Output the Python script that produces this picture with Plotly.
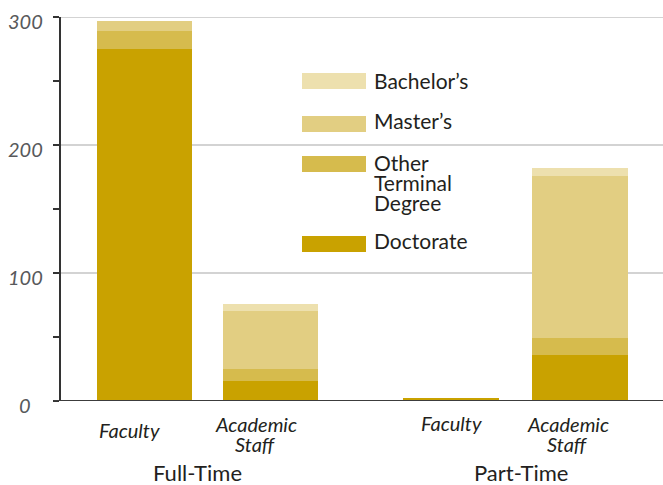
import plotly.graph_objects as go

# ---------------- data ----------------
groups = ["Full-Time", "Part-Time"]
categories = ["Faculty", "Academic Staff"]
series_names = ["Doctorate", "Other Terminal Degree", "Master\u2019s", "Bachelor\u2019s"]
series_colors = ["#c9a200", "#d6bb4d", "#e2ce82", "#ede0ae"]

doctorate_ft = [275, 16]
doctorate_pt = [2, 36]
other_ft = [14, 9]
other_pt = [0, 13]
masters_ft = [8, 45]
masters_pt = [0, 127]
bachelors_ft = [0, 6]
bachelors_pt = [0, 6]

y_tick_vals = [0, 100, 200, 300]
y_minor_vals = [50, 150, 250]
y_range = [0, 300]

ft_values = [doctorate_ft, other_ft, masters_ft, bachelors_ft]
pt_values = [doctorate_pt, other_pt, masters_pt, bachelors_pt]

# ---------------- geometry helpers ----------------
W, H = 663, 485
L, R, T, B = 60, 663, 17, 401


def px_x(px):
    return (px - L) / (R - L)


def px_y(py):
    return (B - py) / (B - T)


FONT = "Lato, 'Open Sans', sans-serif"
DARK = "#231f20"
GREY = "#58595b"

fig = go.Figure()
for i, name in enumerate(series_names):
    fig.add_trace(go.Bar(x=categories, y=ft_values[i], name=name,
                         marker=dict(color=series_colors[i], line=dict(width=0)),
                         xaxis="x", yaxis="y", showlegend=False, hoverinfo="skip"))
    fig.add_trace(go.Bar(x=categories, y=pt_values[i], name=name,
                         marker=dict(color=series_colors[i], line=dict(width=0)),
                         xaxis="x2", yaxis="y", showlegend=False, hoverinfo="skip"))

shapes = []
# gridlines
for v in y_tick_vals[1:]:
    shapes.append(dict(type="line", xref="paper", yref="y", x0=0, x1=1, y0=v, y1=v,
                       line=dict(color="#d3d3d3", width=2), layer="below"))
# zero line
shapes.append(dict(type="line", xref="paper", yref="y", x0=px_x(54), x1=1, y0=0, y1=0,
                   line=dict(color="#3c3c3c", width=2), layer="above"))

annotations = []
# y tick labels (centered)
for v in y_tick_vals:
    annotations.append(dict(text=str(v), xref="paper", yref="y", x=px_x(25), y=v,
                            xanchor="center", yanchor="middle", yshift=-4, showarrow=False,
                            font=dict(family=FONT, size=20, color=GREY, style="italic")))

# category labels
label_base_y = [[429.5, 423.5], [423, 423.5]]
label_xshift = [[-15, -15], [0, -12.5]]
axes = ["x", "x2"]
for g in range(len(groups)):
    for c, cat in enumerate(categories):
        for j, line in enumerate(cat.split(" ")):
            annotations.append(dict(text=line, xref=axes[g], yref="paper", x=cat,
                                    y=px_y(label_base_y[g][c] + 20 * j),
                                    xanchor="center", yanchor="middle",
                                    xshift=label_xshift[g][c], showarrow=False,
                                    font=dict(family=FONT, size=20, color=DARK, style="italic")))

# group labels
group_x = [197, 521]
for g, grp in enumerate(groups):
    annotations.append(dict(text=grp, xref="paper", yref="paper", x=px_x(group_x[g]),
                            y=px_y(472.5), xanchor="center", yanchor="middle", showarrow=False,
                            font=dict(family=FONT, size=22, color=DARK)))

# manual legend (top to bottom: reverse stacking order)
swatch_top = {"Bachelor\u2019s": 73, "Master\u2019s": 116, "Other Terminal Degree": 156, "Doctorate": 236}
text_mid = {"Bachelor\u2019s": 80.5, "Master\u2019s": 120.5, "Other Terminal Degree": 162, "Doctorate": 241}
for i, name in enumerate(series_names):
    top = swatch_top[name]
    shapes.append(dict(type="rect", xref="paper", yref="paper", x0=px_x(302), x1=px_x(366),
                       y0=px_y(top + 16), y1=px_y(top), fillcolor=series_colors[i],
                       line=dict(width=0)))
    lines = [name] if name != "Other Terminal Degree" else name.split(" ")
    for j, line in enumerate(lines):
        annotations.append(dict(text=line, xref="paper", yref="paper", x=px_x(372),
                                y=px_y(text_mid[name] + 20 * j), xanchor="left",
                                yanchor="middle", showarrow=False,
                                font=dict(family=FONT, size=21, color=DARK)))

axis_common = dict(type="category", showticklabels=False, showgrid=False, zeroline=False,
                   showline=False, ticks="", anchor="y", fixedrange=True)

fig.update_layout(
    width=W, height=H,
    margin=dict(l=L, r=W - R, t=T, b=H - B, pad=0),
    paper_bgcolor="white", plot_bgcolor="white",
    barmode="stack", bargap=0.25,
    xaxis=dict(domain=[px_x(81.5), px_x(333.5)], **axis_common),
    xaxis2=dict(domain=[px_x(386.5), px_x(644.5)], **axis_common),
    yaxis=dict(range=y_range, anchor="free", position=0, showgrid=False, zeroline=False,
               showline=True, linecolor="#333333", linewidth=2,
               ticks="outside", ticklen=6, tickwidth=2, tickcolor="#333333",
               tickvals=y_tick_vals, showticklabels=False, fixedrange=True,
               minor=dict(tickvals=y_minor_vals, ticks="outside", ticklen=6, tickwidth=2,
                          tickcolor="#333333")),
    shapes=shapes,
    annotations=annotations,
    showlegend=False,
)

fig.write_html("out.html", config={"displayModeBar": False},
               post_script="document.body.style.margin='0';document.body.style.overflow='hidden';")
